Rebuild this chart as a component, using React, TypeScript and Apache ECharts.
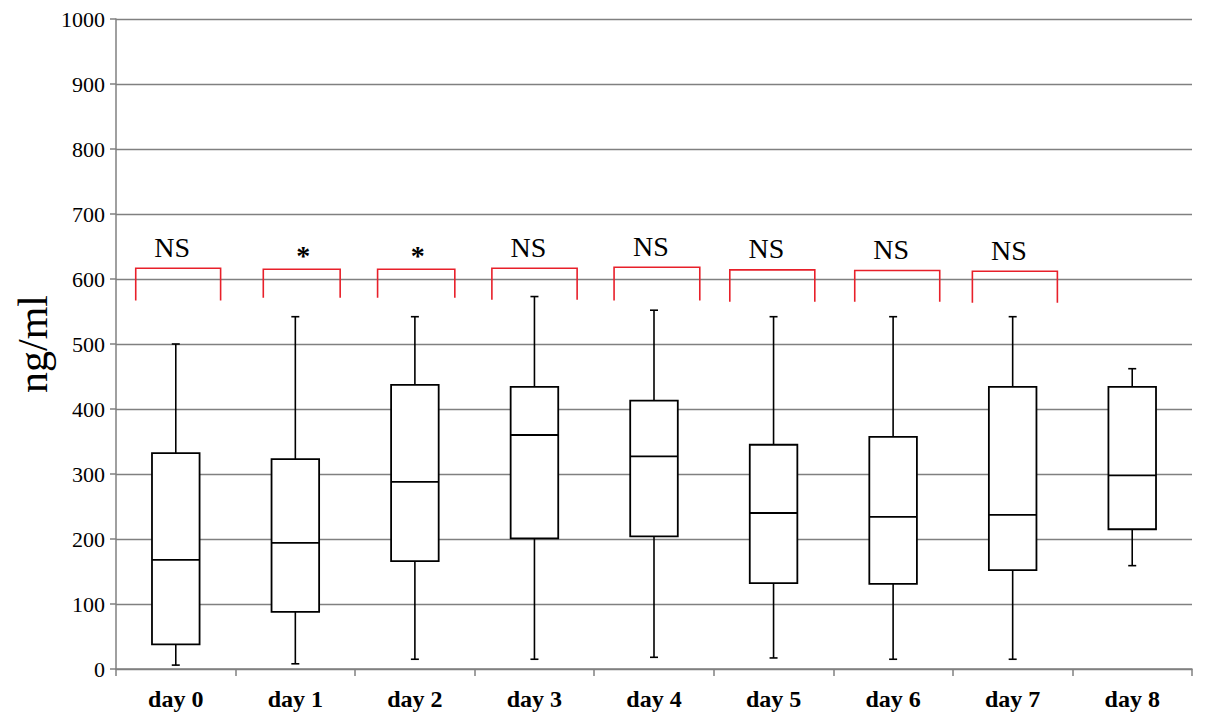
import React, { useEffect, useRef } from "react";
import * as echarts from "echarts";

const categories = ["day 0", "day 1", "day 2", "day 3", "day 4", "day 5", "day 6", "day 7", "day 8"];
const yTicks = { min: 0, max: 1000, interval: 100 };
const yTickValues = [0, 100, 200, 300, 400, 500, 600, 700, 800, 900, 1000];

// box statistics per day
const boxLow = [6, 8, 15, 15, 18, 17, 15, 15, 159];
const boxQ1 = [38, 88, 166, 201, 204, 132, 131, 152, 215];
const boxMedian = [168, 194, 288, 360, 327, 240, 234, 237, 298];
const boxQ3 = [332, 323, 437, 434, 413, 345, 357, 434, 434];
const boxMax = [500, 542, 542, 573, 552, 542, 542, 542, 462];

// significance brackets: category index, left & right edge (category units), top & bottom value, label
const bracketIndex = [0, 1, 2, 3, 4, 5, 6, 7];
const bracketLeft = [-0.335, 0.732, 1.688, 2.644, 3.666, 4.634, 5.679, 6.663];
const bracketRight = [0.375, 1.375, 2.334, 3.357, 4.383, 5.345, 6.39, 7.374];
const bracketTop = [616.5, 615, 615, 616.5, 618, 614, 613, 612];
const bracketBottom = [567, 571, 571, 568, 567, 565, 565, 563.5];
const bracketLabel = ["NS", "*", "*", "NS", "NS", "NS", "NS", "NS"];

const SERIF = "Liberation Serif";

export default function App() {
  const ref = useRef<HTMLDivElement>(null);

  useEffect(() => {
    document.body.style.margin = "0";
    if (!ref.current) return;
    const chart = echarts.init(ref.current, undefined, { renderer: "svg" });

    const boxData = categories.map((_, i) => [i, boxLow[i], boxQ1[i], boxMedian[i], boxQ3[i], boxMax[i]]);
    const bracketData = bracketIndex.map((idx, i) => [idx, bracketTop[i], bracketBottom[i], bracketLeft[i], bracketRight[i]]);
    const tickData = yTickValues.map((v) => [0, v]);

    const option: any = {
      animation: false,
      backgroundColor: "#ffffff",
      textStyle: { fontFamily: SERIF },
      grid: { left: 116, right: 13, top: 19, bottom: 56, containLabel: false },
      xAxis: {
        type: "category",
        data: categories,
        boundaryGap: true,
        axisLine: { show: true, lineStyle: { color: "#808080", width: 1.5 } },
        axisTick: { show: true, length: 7, alignWithLabel: false, lineStyle: { color: "#808080", width: 1.5 } },
        axisLabel: { color: "#000", fontFamily: SERIF, fontSize: 24, fontWeight: "bold", margin: 18 },
        splitLine: { show: false },
      },
      yAxis: {
        type: "value",
        min: yTicks.min,
        max: yTicks.max,
        interval: yTicks.interval,
        name: "ng/ml",
        nameLocation: "middle",
        nameGap: 62,
        nameTextStyle: { color: "#000", fontFamily: SERIF, fontSize: 42 },
        axisLine: { show: true, lineStyle: { color: "#808080", width: 1.5 } },
        axisTick: { show: true, length: 6, inside: false, lineStyle: { color: "#808080", width: 1.5 } },
        axisLabel: { show: false },
        splitLine: { show: true, lineStyle: { color: "#808080", width: 1.3 } },
      },
      series: [
        {
          type: "custom",
          name: "yTickLabels",
          data: tickData,
          encode: { x: 0, y: 1 },
          clip: false,
          silent: true,
          renderItem: (params: any, api: any) => {
            const v = api.value(1);
            const p = api.coord([0, v]);
            const band = api.size([1, 0])[0];
            const axisX = p[0] - band / 2;
            return {
              type: "text",
              x: axisX - 11,
              y: p[1],
              style: {
                text: String(v),
                fill: "#000",
                fontFamily: SERIF,
                fontSize: 22,
                textAlign: "right",
                textVerticalAlign: "middle",
              },
            };
          },
          z: 5,
        },
        {
          type: "custom",
          name: "box",
          data: boxData,
          encode: { x: 0, y: [1, 2, 3, 4, 5] },
          clip: false,
          renderItem: (params: any, api: any) => {
            const idx = api.value(0);
            const lo = api.coord([idx, api.value(1)]);
            const q1 = api.coord([idx, api.value(2)]);
            const med = api.coord([idx, api.value(3)]);
            const q3 = api.coord([idx, api.value(4)]);
            const hi = api.coord([idx, api.value(5)]);
            const band = api.size([1, 0])[0];
            const bw = band * 0.398;
            const cx = lo[0];
            const cap = 4;
            const ls = { stroke: "#000", lineWidth: 1.6 };
            return {
              type: "group",
              children: [
                { type: "line", shape: { x1: cx, y1: hi[1], x2: cx, y2: q3[1] }, style: ls },
                { type: "line", shape: { x1: cx, y1: q1[1], x2: cx, y2: lo[1] }, style: ls },
                { type: "line", shape: { x1: cx - cap, y1: hi[1], x2: cx + cap, y2: hi[1] }, style: ls },
                { type: "line", shape: { x1: cx - cap, y1: lo[1], x2: cx + cap, y2: lo[1] }, style: ls },
                {
                  type: "rect",
                  shape: { x: cx - bw / 2, y: q3[1], width: bw, height: q1[1] - q3[1] },
                  style: { fill: "#fff", stroke: "#000", lineWidth: 1.8 },
                },
                { type: "line", shape: { x1: cx - bw / 2, y1: med[1], x2: cx + bw / 2, y2: med[1] }, style: { stroke: "#000", lineWidth: 1.8 } },
              ],
            };
          },
          z: 3,
        },
        {
          type: "custom",
          name: "brackets",
          data: bracketData,
          encode: { x: 0, y: [1, 2] },
          clip: false,
          renderItem: (params: any, api: any) => {
            const idx = api.value(0);
            const top = api.coord([idx, api.value(1)]);
            const bot = api.coord([idx, api.value(2)]);
            const band = api.size([1, 0])[0];
            const xl = top[0] + (api.value(3) - idx) * band;
            const xr = top[0] + (api.value(4) - idx) * band;
            const label = bracketLabel[params.dataIndex];
            const isStar = label === "*";
            const mid = (xl + xr) / 2;
            return {
              type: "group",
              children: [
                {
                  type: "polyline",
                  shape: { points: [[xl, bot[1]], [xl, top[1]], [xr, top[1]], [xr, bot[1]]] },
                  style: { stroke: "#e8202a", lineWidth: 1.6, fill: null },
                },
                {
                  type: "text",
                  x: isStar ? mid + 1.5 : mid - 6,
                  y: isStar ? top[1] - 14 : top[1] - 21,
                  style: {
                    text: label,
                    fill: "#000",
                    fontFamily: SERIF,
                    fontSize: 28,
                    fontWeight: isStar ? "bold" : "normal",
                    textAlign: "center",
                    textVerticalAlign: "middle",
                  },
                },
              ],
            };
          },
          z: 4,
        },
      ],
    };

    chart.setOption(option);
    return () => chart.dispose();
  }, []);

  return <div ref={ref} style={{ width: 1205, height: 725 }} />;
}
